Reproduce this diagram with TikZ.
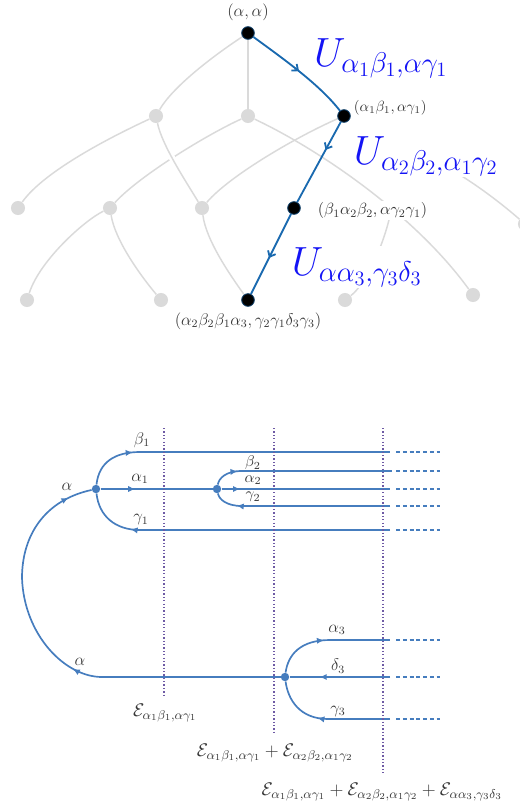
\documentclass[tikz,border=0pt]{standalone}
\usepackage{fix-cm}
\usepackage{amsmath,amssymb}
\usepackage{tikz}
\usetikzlibrary{positioning,arrows.meta,decorations.markings,backgrounds}
\usepackage{xcolor}
\definecolor{pathblue}{RGB}{25,105,175}
\definecolor{wireblue}{RGB}{70,125,190}
\definecolor{treegray}{RGB}{218,218,218}
\definecolor{cutpurple}{RGB}{110,90,165}
\definecolor{labelgray}{RGB}{55,55,55}
\definecolor{ampblue}{RGB}{20,20,245}

\begin{document}
\begin{tikzpicture}[x=0.025cm,y=-0.025cm,
  twig/.style={draw=treegray,line width=1.05pt},
  leaf/.style={circle,fill=treegray,inner sep=0pt,minimum size=10pt},
  hit/.style={circle,fill=black,draw=pathblue!60!black,line width=0.6pt,inner sep=0pt,minimum size=9pt},
  hop/.style={draw=pathblue,line width=1.3pt,postaction={decorate},
    decoration={markings,mark=at position #1 with {\arrow{Straight Barb[length=3.5pt,width=6pt]}}}},
  state/.style={fill=white,inner sep=1pt,text=labelgray},
  amp/.style={fill=white,inner sep=1pt,text=ampblue,font=\fontsize{29}{33}\selectfont},
  wire/.style={draw=wireblue,line width=1.2pt},
  tail/.style={wire,dash pattern=on 3pt off 1.8pt},
  flow/.style={wire,postaction={decorate},
    decoration={markings,mark=at position #1 with {\arrow{Latex[length=5pt,width=4.5pt]}}}},
  cut/.style={draw=cutpurple,line width=1pt,dash pattern=on 0.9pt off 1.5pt},
  vtx/.style={circle,fill=wireblue,inner sep=0pt,minimum size=6pt},
  leg/.style={text=labelgray,inner sep=1pt,font=\fontsize{12}{14}\selectfont},
  energy/.style={text=labelgray,inner sep=1pt,font=\fontsize{13}{15}\selectfont}]
\useasboundingbox (0,0) rectangle (520,810);
\clip (0,0) rectangle (520,810);

\node[hit] (root) at (248,33) {};
\node[hit] (t1) at (344,116) {};
\node[hit] (t2) at (294,208) {};
\node[hit] (t3) at (248,300) {};
\node[leaf] (u1) at (156,116) {};
\node[leaf] (u2) at (248,116) {};
\node[leaf] (u3) at (18,208) {};
\node[leaf] (u4) at (110,208) {};
\node[leaf] (u5) at (202,208) {};
\node[leaf] (u6) at (27,300) {};
\node[leaf] (u7) at (161,300) {};
\node[leaf] (u8) at (345,300) {};
\node[leaf] (u9) at (473,295) {};
\node[leaf] (u10) at (525,224) {};
\coordinate (h8) at (392,206);
\coordinate (h10) at (452,170);

\begin{scope}[on background layer]
\draw[twig] (root) .. controls (210,58) and (172,88) .. (u1);
\draw[twig] (root) -- (u2);
\draw[twig] (u1) .. controls (115,135) and (45,170) .. (u3);
\draw[twig] (u2) .. controls (210,133) and (140,175) .. (u4);
\draw[twig,preaction={draw=white,line width=4.5pt}] (u1) .. controls (162,145) and (185,180) .. (u5);
\draw[twig] (t1) .. controls (300,135) and (230,175) .. (u5);
\draw[twig] (u2) .. controls (320,150) and (415,215) .. (u9);
\draw[twig] (u4) .. controls (85,220) and (40,260) .. (u6);
\draw[twig] (u4) .. controls (115,240) and (140,275) .. (u7);
\draw[twig] (u5) .. controls (206,240) and (230,275) .. (t3);
\draw[twig] (u8) .. controls (365,285) and (385,245) .. (h8);
\draw[twig] (u10) .. controls (495,198) and (472,182) .. (h10);
\end{scope}

\draw[hop=0.5] (root) .. controls (285,60) and (320,85) .. (t1);
\draw[hop=0.35] (t1) -- (t2);
\draw[hop=0.55] (t2) -- (t3);

\node[state,font=\fontsize{12}{14}\selectfont,above=3pt of root] (lroot) {$(\alpha,\alpha)$};
\node[state,font=\fontsize{10.5}{12}\selectfont,right=1pt of t1,yshift=6pt] (lt1) {$(\alpha_1\beta_1,\alpha\gamma_1)$};
\node[state,font=\fontsize{11.5}{13}\selectfont,right=11pt of t2,yshift=-2pt] (lt2) {$(\beta_1\alpha_2\beta_2,\alpha\gamma_2\gamma_1)$};
\node[state,font=\fontsize{12}{14}\selectfont,below=3pt of t3] (lt3) {$(\alpha_2\beta_2\beta_1\alpha_3,\gamma_2\gamma_1\delta_3\gamma_3)$};
\node[amp] (U1) at (381,58) {$U_{\alpha_1\beta_1,\alpha\gamma_1}$};
\node[amp] (U2) at (426,156) {$U_{\alpha_2\beta_2,\alpha_1\gamma_2}$};
\node[amp] (U3) at (357,267) {$U_{\alpha\alpha_3,\gamma_3\delta_3}$};

\node[vtx] (v1) at (96,489) {};
\node[vtx] (v2) at (217,489) {};
\node[vtx] (v3) at (285,677) {};
\coordinate (b1s) at (140,452); \coordinate (b1e) at (390,452);
\coordinate (a1e) at (390,489);
\coordinate (c1s) at (140,530); \coordinate (c1e) at (390,530);
\coordinate (b2s) at (242,471); \coordinate (b2e) at (392,471);
\coordinate (c2s) at (242,506); \coordinate (c2e) at (390,506);
\coordinate (a3s) at (330,640); \coordinate (a3e) at (390,640);
\coordinate (d3e) at (390,677);
\coordinate (c3s) at (328,719); \coordinate (c3e) at (390,719);
\coordinate (ab) at (102,677); \coordinate (al) at (22,578);

\draw[flow=0.88] (v1) .. controls (99,462) and (115,452) .. (b1s);
\draw[wire] (b1s) -- (b1e);
\draw[flow=0.31] (v1) -- (v2);
\draw[flow=0.11] (v2) -- (a1e);
\draw[wire] (c1e) -- (c1s);
\draw[flow=0.15] (c1s) .. controls (115,530) and (99,516) .. (v1);
\draw[flow=0.85] (v2) .. controls (219,478) and (226,471) .. (b2s);
\draw[wire] (b2s) -- (b2e);
\draw[wire] (c2e) -- (c2s);
\draw[flow=0.18] (c2s) .. controls (226,506) and (219,499) .. (v2);
\draw[flow=0.9] (v3) .. controls (288,655) and (300,640) .. (a3s);
\draw[wire] (a3s) -- (a3e);
\draw[flow=0.7] (d3e) -- (v3);
\draw[wire] (c3e) -- (c3s);
\draw[flow=0.17] (c3s) .. controls (300,719) and (288,700) .. (v3);
\draw[wire] (v3) -- (ab);
\draw[flow=0.22] (ab) .. controls (65,677) and (24,635) .. (al);
\draw[flow=0.8] (al) .. controls (22,535) and (45,500) .. (v1);
\foreach \y in {452,471,489,506,530,640,677,719}
  \draw[tail] (396,\y) -- (440,\y);
\foreach \x/\yb in {164/697,274/733,383/773}
  \draw[cut] (\x,428) -- (\x,\yb);

\node[leg] (lb1) at (142,440) {$\beta_1$};
\node[leg] (la1) at (140,479) {$\alpha_1$};
\node[leg] (lc1) at (141,520) {$\gamma_1$};
\node[leg] (la) at (67,487) {$\alpha$};
\node[leg,font=\fontsize{11}{13}\selectfont] (lb2) at (253,463) {$\beta_2$};
\node[leg,font=\fontsize{11}{13}\selectfont] (la2) at (253,480) {$\alpha_2$};
\node[leg,font=\fontsize{11}{13}\selectfont] (lc2) at (253,497) {$\gamma_2$};
\node[leg] (lab) at (80,662) {$\alpha$};
\node[leg] (la3) at (337,630) {$\alpha_3$};
\node[leg] (ld3) at (338,666) {$\delta_3$};
\node[leg] (lc3) at (338,711) {$\gamma_3$};

\node[energy] (e1) at (165,713) {$\mathcal{E}_{\alpha_1\beta_1,\alpha\gamma_1}$};
\node[energy] (e2) at (275,753) {$\mathcal{E}_{\alpha_1\beta_1,\alpha\gamma_1}+\mathcal{E}_{\alpha_2\beta_2,\alpha_1\gamma_2}$};
\node[energy] (e3) at (382,792) {$\mathcal{E}_{\alpha_1\beta_1,\alpha\gamma_1}+\mathcal{E}_{\alpha_2\beta_2,\alpha_1\gamma_2}+\mathcal{E}_{\alpha\alpha_3,\gamma_3\delta_3}$};
\end{tikzpicture}
\end{document}
